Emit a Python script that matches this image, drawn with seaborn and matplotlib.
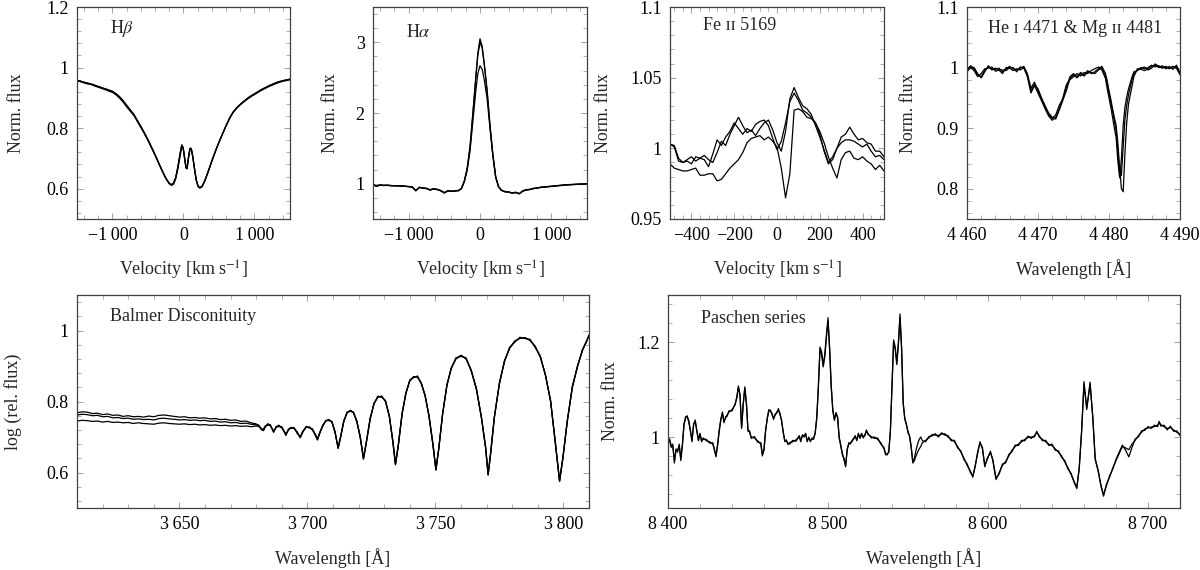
import numpy as np
import pandas as pd
import seaborn as sns
import matplotlib
matplotlib.use("Agg")
import matplotlib.pyplot as plt
from matplotlib.ticker import MultipleLocator, FuncFormatter

# ===============================
# Data
# ===============================
# H beta (velocity, km/s)
hb_vel = [-1500, -1450, -1400, -1350, -1300, -1250, -1200, -1150, -1100, -1050,
          -1000, -950, -900, -850, -800, -750, -700, -650, -600, -550,
          -500, -450, -400, -350, -300, -250, -200, -170, -140, -110,
          -80, -50, -25, -5, 15, 35, 50, 70, 90, 110,
          130, 155, 180, 205, 230, 260, 300, 350, 400, 450,
          500, 550, 600, 650, 700, 750, 800, 850, 900, 950,
          1000, 1050, 1100, 1150, 1200, 1250, 1300, 1350, 1400, 1450,
          1500]
hb_flux_1 = [0.957, 0.954, 0.951, 0.949, 0.945, 0.941, 0.938, 0.933, 0.930, 0.926,
             0.922, 0.914, 0.904, 0.891, 0.876, 0.861, 0.846, 0.826, 0.806, 0.785,
             0.762, 0.738, 0.713, 0.686, 0.660, 0.636, 0.617, 0.611, 0.615, 0.632,
             0.665, 0.705, 0.738, 0.735, 0.705, 0.672, 0.668, 0.700, 0.727, 0.729,
             0.708, 0.668, 0.630, 0.609, 0.603, 0.607, 0.626, 0.658, 0.692, 0.724,
             0.754, 0.781, 0.808, 0.832, 0.852, 0.866, 0.877, 0.887, 0.896, 0.904,
             0.911, 0.918, 0.925, 0.931, 0.937, 0.942, 0.947, 0.951, 0.955, 0.958,
             0.961]
hb_flux_2 = [0.955, 0.956, 0.949, 0.946, 0.944, 0.939, 0.935, 0.931, 0.927, 0.922,
             0.918, 0.910, 0.899, 0.886, 0.870, 0.856, 0.842, 0.822, 0.802, 0.781,
             0.759, 0.735, 0.710, 0.684, 0.658, 0.634, 0.616, 0.612, 0.617, 0.636,
             0.670, 0.712, 0.742, 0.733, 0.700, 0.668, 0.665, 0.702, 0.731, 0.731,
             0.705, 0.664, 0.627, 0.607, 0.602, 0.606, 0.625, 0.657, 0.691, 0.723,
             0.753, 0.781, 0.808, 0.833, 0.853, 0.868, 0.879, 0.889, 0.899, 0.907,
             0.914, 0.921, 0.928, 0.934, 0.940, 0.945, 0.950, 0.953, 0.956, 0.957,
             0.963]
hb_flux_3 = [0.958, 0.953, 0.952, 0.948, 0.946, 0.942, 0.937, 0.934, 0.929, 0.925,
             0.920, 0.912, 0.902, 0.889, 0.873, 0.858, 0.844, 0.824, 0.804, 0.783,
             0.760, 0.736, 0.711, 0.685, 0.659, 0.635, 0.618, 0.614, 0.619, 0.638,
             0.672, 0.715, 0.745, 0.737, 0.702, 0.670, 0.667, 0.705, 0.734, 0.733,
             0.707, 0.666, 0.628, 0.608, 0.604, 0.608, 0.627, 0.659, 0.693, 0.725,
             0.755, 0.782, 0.809, 0.834, 0.854, 0.867, 0.878, 0.888, 0.897, 0.905,
             0.912, 0.920, 0.927, 0.933, 0.938, 0.944, 0.949, 0.954, 0.957, 0.960,
             0.960]

# H alpha (velocity, km/s)
ha_vel = [-1500, -1450, -1400, -1350, -1300, -1250, -1200, -1150, -1100, -1050,
          -1000, -950, -900, -850, -800, -750, -700, -650, -600, -550,
          -500, -450, -400, -350, -300, -260, -220, -180, -140, -100,
          -60, -30, 0, 30, 60, 100, 140, 180, 220, 260,
          300, 350, 400, 450, 500, 550, 600, 650, 700, 750,
          800, 850, 900, 950, 1000, 1100, 1200, 1300, 1400, 1500]
ha_flux_1 = [0.99, 0.96, 0.985, 0.975, 0.98, 0.975, 0.97, 0.972, 0.968, 0.965,
             0.96, 0.955, 0.90, 0.95, 0.94, 0.935, 0.91, 0.93, 0.92, 0.905,
             0.87, 0.90, 0.895, 0.90, 0.905, 0.93, 1.03, 1.20, 1.50, 1.98,
             2.50, 2.85, 3.05, 2.95, 2.70, 2.32, 1.83, 1.42, 1.10, 0.96,
             0.91, 0.89, 0.885, 0.87, 0.88, 0.86, 0.90, 0.915, 0.92, 0.935,
             0.94, 0.95, 0.955, 0.96, 0.965, 0.975, 0.985, 0.99, 0.995, 1.0]
ha_flux_2 = [0.985, 0.965, 0.98, 0.978, 0.975, 0.97, 0.973, 0.968, 0.966, 0.962,
             0.958, 0.952, 0.905, 0.948, 0.938, 0.932, 0.915, 0.928, 0.918, 0.90,
             0.875, 0.898, 0.892, 0.898, 0.902, 0.935, 1.04, 1.22, 1.53, 2.00,
             2.48, 2.82, 3.00, 2.92, 2.68, 2.30, 1.82, 1.40, 1.09, 0.955,
             0.905, 0.885, 0.88, 0.868, 0.875, 0.858, 0.895, 0.912, 0.918, 0.932,
             0.938, 0.948, 0.952, 0.958, 0.962, 0.972, 0.982, 0.988, 0.993, 0.998]
ha_flux_3 = [0.988, 0.962, 0.982, 0.972, 0.978, 0.972, 0.968, 0.97, 0.965, 0.963,
             0.957, 0.953, 0.898, 0.945, 0.936, 0.93, 0.908, 0.925, 0.915, 0.898,
             0.868, 0.895, 0.89, 0.895, 0.90, 0.93, 1.03, 1.19, 1.46, 1.88,
             2.30, 2.56, 2.67, 2.62, 2.47, 2.20, 1.78, 1.40, 1.09, 0.955,
             0.905, 0.885, 0.88, 0.865, 0.873, 0.855, 0.893, 0.91, 0.916, 0.93,
             0.936, 0.946, 0.95, 0.956, 0.96, 0.97, 0.98, 0.986, 0.992, 0.996]

# Fe II 5169 (velocity, km/s)
fe_vel = [-500, -480, -460, -440, -420, -400, -380, -360, -340, -320,
          -300, -280, -260, -240, -220, -200, -180, -160, -140, -120,
          -100, -80, -60, -40, -20, 0, 20, 40, 60, 80,
          100, 120, 140, 160, 180, 200, 220, 240, 260, 280,
          300, 320, 340, 360, 380, 400, 420, 440, 460, 480, 500]
fe_flux_1 = [0.989, 0.986, 0.985, 0.984, 0.984, 0.985, 0.986, 0.981, 0.981, 0.982,
             0.982, 0.977, 0.978, 0.982, 0.986, 0.989, 0.992, 0.997, 1.004, 1.007,
             1.008, 1.009, 1.006, 1.008, 1.005, 1.001, 0.986, 0.965, 0.982, 1.027,
             1.028, 1.026, 1.022, 1.021, 1.018, 1.012, 1.004, 0.994, 0.986, 0.979,
             0.992, 0.997, 0.998, 0.993, 0.992, 0.994, 0.991, 0.989, 0.985, 0.988, 0.984]
fe_flux_2 = [1.003, 1.002, 0.993, 0.990, 0.991, 0.989, 0.994, 0.993, 0.995, 0.992,
             0.990, 0.997, 1.005, 1.002, 1.010, 1.016, 1.022, 1.016, 1.011, 1.013,
             1.009, 1.014, 1.018, 1.020, 1.013, 1.004, 0.998, 1.012, 1.035, 1.043,
             1.036, 1.030, 1.028, 1.024, 1.016, 1.008, 0.999, 0.990, 0.994, 1.000,
             1.004, 1.006, 1.006, 1.005, 1.003, 1.001, 1.003, 0.998, 0.994, 0.995, 0.992]
fe_flux_3 = [1.003, 1.001, 0.991, 0.990, 0.992, 0.994, 0.991, 0.993, 0.992, 0.987,
             0.996, 1.006, 1.002, 1.008, 1.012, 1.018, 1.014, 1.010, 1.014, 1.012,
             1.017, 1.019, 1.020, 1.016, 1.007, 0.999, 1.005, 1.018, 1.033, 1.039,
             1.034, 1.027, 1.025, 1.022, 1.018, 1.010, 0.998, 0.989, 0.992, 1.000,
             1.008, 1.010, 1.015, 1.010, 1.006, 1.007, 1.004, 1.003, 0.998, 0.998, 0.994]

# He I 4471 & Mg II 4481 (wavelength, Angstrom)
he_wave = [4460.0, 4460.5, 4461.0, 4461.5, 4462.0, 4462.5, 4463.0, 4463.5, 4464.0, 4464.5,
           4465.0, 4465.5, 4466.0, 4466.5, 4467.0, 4467.5, 4468.0, 4468.5, 4469.0, 4469.5,
           4470.0, 4470.5, 4471.0, 4471.5, 4472.0, 4472.5, 4473.0, 4473.5, 4474.0, 4474.5,
           4475.0, 4475.5, 4476.0, 4476.5, 4477.0, 4477.5, 4478.0, 4478.5, 4479.0, 4479.5,
           4479.75, 4480.0, 4480.25, 4480.5, 4480.75, 4481.0, 4481.25, 4481.5, 4481.75, 4482.0,
           4482.25, 4482.5, 4482.75, 4483.0, 4483.25, 4483.5, 4484.0, 4484.5, 4485.0, 4485.5,
           4486.0, 4486.5, 4487.0, 4487.5, 4488.0, 4488.5, 4489.0, 4489.5, 4490.0]
he_flux_1 = [0.996, 1.003, 0.998, 0.988, 0.985, 0.995, 1.001, 0.998, 0.997, 0.999,
             0.993, 0.998, 1.002, 0.998, 0.996, 0.999, 1.002, 0.990, 0.966, 0.976,
             0.962, 0.948, 0.935, 0.922, 0.916, 0.922, 0.938, 0.948, 0.968, 0.985,
             0.990, 0.985, 0.992, 0.988, 0.995, 0.990, 0.993, 0.998, 1.002, 0.990,
             0.978, 0.962, 0.948, 0.932, 0.918, 0.905, 0.875, 0.835, 0.800, 0.795,
             0.860, 0.910, 0.940, 0.955, 0.970, 0.985, 0.998, 0.997, 0.995, 0.998,
             1.002, 1.004, 1.000, 1.003, 0.998, 1.002, 0.997, 1.004, 0.990]
he_flux_2 = [0.993, 1.000, 0.995, 0.985, 0.990, 0.998, 0.999, 1.001, 0.994, 0.996,
             0.990, 1.000, 0.999, 0.995, 0.998, 0.996, 1.000, 0.985, 0.958, 0.970,
             0.958, 0.945, 0.932, 0.920, 0.913, 0.918, 0.932, 0.950, 0.972, 0.980,
             0.985, 0.990, 0.986, 0.992, 0.990, 0.995, 0.998, 1.001, 0.996, 0.982,
             0.965, 0.950, 0.935, 0.918, 0.900, 0.885, 0.845, 0.818, 0.850, 0.905,
             0.935, 0.952, 0.965, 0.975, 0.985, 0.993, 0.995, 0.999, 1.001, 0.996,
             0.999, 1.006, 1.002, 0.999, 1.001, 0.998, 1.002, 0.999, 0.988]
he_flux_3 = [0.998, 1.001, 1.000, 0.990, 0.983, 0.993, 1.003, 0.996, 0.999, 0.997,
             0.996, 0.995, 1.000, 1.000, 0.993, 1.001, 0.999, 0.988, 0.962, 0.972,
             0.965, 0.950, 0.937, 0.925, 0.918, 0.915, 0.930, 0.946, 0.962, 0.982,
             0.988, 0.983, 0.990, 0.986, 0.993, 0.992, 0.990, 0.996, 1.000, 0.986,
             0.972, 0.958, 0.942, 0.928, 0.912, 0.895, 0.862, 0.825, 0.822, 0.870,
             0.915, 0.938, 0.955, 0.968, 0.980, 0.990, 0.996, 1.000, 0.998, 1.000,
             1.004, 1.001, 1.003, 1.000, 1.002, 0.999, 1.001, 1.002, 0.992]

# Balmer discontinuity: blue part (spectra separate) and red part (Balmer lines)
bd_blue_wave = [3610, 3612, 3614, 3616, 3618, 3620, 3622, 3624, 3626, 3628,
                3630, 3632, 3634, 3636, 3638, 3640, 3642, 3644, 3646, 3648,
                3650, 3652, 3654, 3656, 3658, 3660, 3662, 3664, 3666, 3668,
                3670, 3672, 3674, 3676, 3678, 3680]
bd_blue_1 = [0.768, 0.771, 0.770, 0.766, 0.767, 0.763, 0.765, 0.761, 0.762, 0.758,
             0.760, 0.757, 0.758, 0.756, 0.759, 0.757, 0.761, 0.762, 0.760, 0.758,
             0.756, 0.757, 0.754, 0.755, 0.753, 0.754, 0.751, 0.752, 0.749, 0.750,
             0.747, 0.748, 0.744, 0.745, 0.740, 0.737]
bd_blue_2 = [0.762, 0.764, 0.763, 0.760, 0.761, 0.757, 0.758, 0.754, 0.755, 0.752,
             0.753, 0.750, 0.751, 0.749, 0.750, 0.748, 0.752, 0.753, 0.751, 0.750,
             0.748, 0.749, 0.747, 0.748, 0.746, 0.747, 0.744, 0.745, 0.742, 0.743,
             0.740, 0.741, 0.738, 0.739, 0.736, 0.734]
bd_blue_3 = [0.745, 0.747, 0.746, 0.744, 0.745, 0.742, 0.744, 0.741, 0.742, 0.740,
             0.741, 0.738, 0.740, 0.738, 0.737, 0.736, 0.739, 0.740, 0.738, 0.737,
             0.736, 0.737, 0.735, 0.736, 0.734, 0.735, 0.733, 0.734, 0.732, 0.733,
             0.731, 0.732, 0.730, 0.731, 0.729, 0.731]
bd_red_wave = [3681, 3682, 3682.8, 3683.5, 3684.5, 3685.5, 3686.8, 3687.8, 3688.8, 3690,
               3691.6, 3692.6, 3693.6, 3694.8, 3696, 3697.2, 3698.2, 3699.5, 3700.8, 3702,
               3703.2, 3703.9, 3704.8, 3706, 3707.2, 3708.4, 3709.6, 3710.8, 3712, 3713,
               3714.2, 3715.5, 3716.8, 3718, 3719.3, 3720.6, 3721.9, 3723, 3724.5, 3726,
               3727.5, 3729, 3730.5, 3732, 3733.4, 3734.4, 3735.5, 3737, 3738.5, 3740,
               3741.5, 3743, 3744.5, 3746, 3747.5, 3749, 3750.2, 3751.3, 3752.8, 3754.5,
               3756.2, 3758, 3760, 3762, 3764, 3766, 3768, 3769.6, 3770.6, 3771.6,
               3773, 3775, 3777, 3779, 3781, 3783, 3785, 3787, 3789, 3791,
               3793, 3795, 3797, 3798.5, 3799.8, 3801.5, 3803.5, 3805.5, 3807.5, 3809, 3810]
bd_red_1 = [0.730, 0.724, 0.718, 0.728, 0.737, 0.732, 0.716, 0.727, 0.733, 0.726,
            0.708, 0.720, 0.727, 0.724, 0.714, 0.698, 0.716, 0.727, 0.728, 0.720,
            0.706, 0.692, 0.710, 0.733, 0.745, 0.749, 0.741, 0.715, 0.668, 0.700,
            0.745, 0.768, 0.775, 0.768, 0.745, 0.700, 0.638, 0.683, 0.750, 0.795,
            0.812, 0.815, 0.800, 0.760, 0.685, 0.622, 0.675, 0.765, 0.825, 0.858,
            0.870, 0.869, 0.852, 0.815, 0.760, 0.680, 0.607, 0.665, 0.765, 0.845,
            0.895, 0.920, 0.930, 0.920, 0.888, 0.835, 0.755, 0.670, 0.593, 0.655,
            0.755, 0.850, 0.915, 0.950, 0.970, 0.978, 0.980, 0.972, 0.955, 0.925,
            0.875, 0.800, 0.675, 0.575, 0.640, 0.745, 0.840, 0.900, 0.945, 0.970, 0.985]
bd_red_2 = [0.734, 0.720, 0.722, 0.731, 0.733, 0.735, 0.713, 0.730, 0.729, 0.729,
            0.704, 0.723, 0.724, 0.727, 0.710, 0.701, 0.713, 0.730, 0.725, 0.723,
            0.702, 0.695, 0.713, 0.730, 0.747, 0.746, 0.744, 0.711, 0.671, 0.703,
            0.742, 0.771, 0.772, 0.771, 0.742, 0.704, 0.641, 0.686, 0.753, 0.792,
            0.815, 0.812, 0.803, 0.757, 0.689, 0.625, 0.678, 0.768, 0.822, 0.861,
            0.867, 0.872, 0.849, 0.818, 0.757, 0.684, 0.610, 0.668, 0.762, 0.848,
            0.892, 0.923, 0.927, 0.923, 0.885, 0.838, 0.752, 0.674, 0.596, 0.658,
            0.752, 0.853, 0.912, 0.953, 0.967, 0.981, 0.977, 0.975, 0.952, 0.928,
            0.872, 0.804, 0.672, 0.578, 0.643, 0.742, 0.843, 0.897, 0.948, 0.967, 0.988]

# Paschen series (wavelength, Angstrom)
pa_wave = [8400, 8401, 8402, 8403, 8404, 8405, 8406, 8407, 8408, 8409,
           8410, 8411, 8412, 8413, 8414, 8415, 8416, 8417, 8418, 8419,
           8420, 8421, 8422, 8424, 8426, 8428, 8429, 8430, 8431, 8432,
           8433, 8434, 8435, 8436, 8437, 8438, 8440, 8442, 8443, 8444,
           8445, 8446, 8447, 8448, 8449, 8450, 8451, 8452, 8454, 8456,
           8458, 8459, 8460, 8461, 8462, 8463, 8464, 8465, 8466, 8467,
           8468, 8469, 8470, 8471, 8472, 8473, 8474, 8475, 8476, 8478,
           8480, 8482, 8483, 8484, 8485, 8486, 8487, 8488, 8489, 8490,
           8491, 8492, 8493, 8494, 8495, 8496, 8497, 8498, 8499, 8500,
           8501, 8502, 8503, 8504, 8505, 8506, 8507, 8508, 8509, 8510,
           8511, 8512, 8513, 8514, 8515, 8516, 8517, 8518, 8519, 8520,
           8521, 8522, 8523, 8524, 8525, 8527, 8529, 8531, 8533, 8535,
           8536, 8537, 8538, 8539, 8540, 8541, 8542, 8543, 8544, 8545,
           8546, 8547, 8548, 8549, 8550, 8551, 8552, 8553, 8554, 8555,
           8556, 8557, 8558, 8559, 8561, 8563, 8565, 8567, 8569, 8571,
           8573, 8575, 8577, 8579, 8581, 8583, 8585, 8587, 8589, 8590.5,
           8592, 8593.5, 8595, 8596.5, 8598, 8599.5, 8601.5, 8603, 8605, 8607,
           8609, 8611, 8613, 8615, 8617, 8619, 8621, 8623, 8625, 8627,
           8629, 8630.5, 8632, 8634, 8636, 8638, 8640, 8642, 8644, 8646,
           8648, 8650, 8652, 8654, 8655.5, 8657, 8658.5, 8660, 8661.7, 8663.8,
           8665.5, 8667, 8669, 8670.5, 8672.2, 8674, 8676, 8678, 8680, 8682,
           8684, 8686, 8688, 8690, 8692, 8694, 8696, 8698, 8700, 8702,
           8704, 8706, 8707, 8708, 8710, 8712, 8714, 8716, 8718, 8720]
pa_flux_1 = [0.998, 0.992, 0.978, 0.985, 0.945, 0.975, 0.968, 0.985, 0.950, 0.985,
             1.025, 1.043, 1.042, 1.035, 1.012, 0.993, 1.025, 1.036, 1.012, 0.995,
             1.008, 0.990, 0.998, 0.992, 0.990, 0.985, 0.975, 0.958, 0.985, 1.012,
             1.038, 1.050, 1.033, 1.040, 1.047, 1.052, 1.058, 1.068, 1.085, 1.105,
             1.090, 1.018, 1.070, 1.106, 1.070, 1.015, 1.010, 1.000, 0.998, 0.992,
             0.985, 0.960, 0.975, 1.012, 1.040, 1.055, 1.057, 1.047, 1.040, 1.046,
             1.053, 1.057, 1.050, 1.033, 1.012, 0.990, 0.994, 0.984, 0.988, 0.990,
             0.994, 1.000, 0.990, 1.005, 1.000, 1.008, 0.990, 1.000, 0.990, 0.998,
             0.995, 1.010, 1.040, 1.110, 1.190, 1.180, 1.152, 1.175, 1.215, 1.252,
             1.190, 1.110, 1.055, 1.035, 1.052, 1.040, 1.000, 0.980, 0.965, 0.952,
             0.937, 0.975, 0.985, 0.988, 0.990, 0.998, 1.000, 0.995, 1.005, 1.000,
             1.008, 0.998, 1.005, 1.012, 1.008, 0.998, 1.000, 0.995, 0.988, 0.975,
             0.965, 0.962, 0.970, 1.012, 1.110, 1.205, 1.190, 1.158, 1.200, 1.260,
             1.190, 1.070, 1.040, 1.025, 1.012, 1.000, 0.980, 0.945, 0.950, 0.960,
             0.968, 0.975, 0.980, 0.988, 0.993, 0.998, 1.005, 1.004, 1.003, 1.006,
             1.007, 1.000, 0.995, 0.990, 0.980, 0.968, 0.955, 0.940, 0.928, 0.915,
             0.940, 0.965, 0.990, 0.975, 0.940, 0.952, 0.970, 0.950, 0.910, 0.925,
             0.940, 0.948, 0.960, 0.972, 0.980, 0.985, 0.990, 0.995, 0.999, 1.000,
             1.000, 1.012, 1.000, 0.995, 0.990, 0.985, 0.982, 0.975, 0.968, 0.960,
             0.947, 0.935, 0.920, 0.905, 0.891, 0.935, 1.010, 1.117, 1.058, 1.116,
             1.040, 0.955, 0.925, 0.900, 0.875, 0.900, 0.915, 0.935, 0.950, 0.965,
             0.980, 0.977, 0.973, 0.985, 0.993, 1.003, 1.010, 1.017, 1.019, 1.021,
             1.022, 1.025, 1.030, 1.026, 1.022, 1.018, 1.020, 1.015, 1.010, 1.006]
pa_flux_2 = [0.995, 0.996, 0.982, 0.980, 0.950, 0.972, 0.972, 0.981, 0.955, 0.982,
             1.028, 1.040, 1.045, 1.031, 1.015, 0.990, 1.028, 1.033, 1.015, 0.992,
             1.005, 0.993, 0.995, 0.995, 0.987, 0.988, 0.972, 0.961, 0.982, 1.015,
             1.035, 1.053, 1.030, 1.043, 1.044, 1.055, 1.055, 1.071, 1.082, 1.108,
             1.087, 1.021, 1.067, 1.103, 1.073, 1.012, 1.013, 0.997, 1.001, 0.989,
             0.988, 0.963, 0.972, 1.015, 1.037, 1.058, 1.054, 1.050, 1.037, 1.049,
             1.050, 1.060, 1.047, 1.036, 1.009, 0.993, 0.991, 0.987, 0.985, 0.993,
             0.991, 1.003, 0.993, 1.002, 1.003, 1.005, 0.993, 0.997, 0.993, 0.995,
             0.998, 1.007, 1.043, 1.105, 1.185, 1.175, 1.148, 1.170, 1.210, 1.245,
             1.185, 1.105, 1.058, 1.038, 1.049, 1.043, 0.997, 0.983, 0.962, 0.955,
             0.940, 0.972, 0.988, 0.985, 0.993, 0.995, 1.003, 0.992, 1.008, 0.997,
             1.005, 1.001, 1.002, 1.015, 1.005, 1.001, 0.997, 0.998, 0.985, 0.978,
             0.962, 0.965, 0.967, 1.015, 1.105, 1.200, 1.185, 1.153, 1.195, 1.252,
             1.185, 1.073, 1.037, 1.028, 1.009, 1.003, 0.977, 0.948, 0.955, 0.972,
             0.985, 0.995, 1.000, 0.992, 0.990, 1.001, 1.002, 1.007, 1.000, 1.009,
             1.004, 1.003, 0.992, 0.993, 0.977, 0.971, 0.952, 0.943, 0.925, 0.918,
             0.937, 0.968, 0.987, 0.978, 0.937, 0.955, 0.967, 0.953, 0.913, 0.922,
             0.943, 0.945, 0.963, 0.969, 0.983, 0.982, 0.993, 0.992, 1.002, 0.997,
             1.003, 1.009, 1.003, 0.992, 0.993, 0.982, 0.985, 0.972, 0.971, 0.957,
             0.950, 0.932, 0.923, 0.902, 0.894, 0.932, 1.013, 1.112, 1.061, 1.111,
             1.043, 0.952, 0.928, 0.897, 0.878, 0.897, 0.918, 0.932, 0.953, 0.968,
             0.983, 0.972, 0.958, 0.978, 0.996, 1.000, 1.013, 1.014, 1.022, 1.018,
             1.025, 1.022, 1.033, 1.023, 1.025, 1.015, 1.023, 1.012, 1.013, 1.003]


# ===============================
# Helpers
# ===============================
def spectra_df(xs, ys):
    frames = []
    for i, (x, y) in enumerate(zip(xs, ys)):
        assert len(x) == len(y), (i, len(x), len(y))
        frames.append(pd.DataFrame({"x": x, "y": y, "spec": i}))
    return pd.concat(frames, ignore_index=True)


def tick_fmt(v, pos):
    # pgfplots style: 1 000 with thin space, no trailing zeros
    if abs(v - round(v)) < 1e-9:
        s = f"{int(round(v)):,}".replace(",", "\u2009")
    else:
        s = f"{v:g}"
    return s.replace("-", "\u2212")


FS = 13


def style_axis(ax, xlim, ylim, xmaj, xmin, ymaj, ymin, xlabel, ylabel,
               title, title_xy, ylab_x):
    ax.set_xlim(xlim)
    ax.set_ylim(ylim)
    ax.xaxis.set_major_locator(MultipleLocator(xmaj))
    ax.xaxis.set_minor_locator(MultipleLocator(xmin))
    ax.yaxis.set_major_locator(MultipleLocator(ymaj))
    ax.yaxis.set_minor_locator(MultipleLocator(ymin))
    ax.xaxis.set_major_formatter(FuncFormatter(tick_fmt))
    ax.yaxis.set_major_formatter(FuncFormatter(tick_fmt))
    ax.tick_params(which="both", direction="in", top=True, right=True,
                   color="#a0a0a0", labelsize=FS, labelcolor="black", pad=6)
    ax.tick_params(which="major", length=4.5, width=0.7)
    ax.tick_params(which="minor", length=3, width=0.6)
    for sp in ax.spines.values():
        sp.set_color("#404040")
        sp.set_linewidth(0.9)
    ax.set_xlabel(xlabel, fontsize=FS)
    ax.set_ylabel(ylabel, fontsize=FS)
    ax.xaxis.set_label_coords(0.5, -0.19)
    ax.yaxis.set_label_coords(ylab_x, 0.5)
    ax.text(title_xy[0], title_xy[1], title, transform=ax.transAxes,
            ha="left", va="center", fontsize=FS)


def draw(ax, df):
    sns.lineplot(data=df, x="x", y="y", units="spec", estimator=None,
                 sort=False, color="black", linewidth=0.9, ax=ax, legend=False)


# ===============================
# Figure
# ===============================
sns.set_theme(style="ticks")
plt.rcParams["font.family"] = ["Liberation Serif", "DejaVu Serif"]
plt.rcParams["mathtext.fontset"] = "stix"

fig = plt.figure(figsize=(12, 5.7), dpi=100)


def add_ax(left, top, right, bottom):
    return fig.add_axes([left / 1200, 1 - bottom / 570,
                         (right - left) / 1200, (bottom - top) / 570])


vel_label = "Velocity [km\u2009s$^{-1}$]"
wl_label = "Wavelength [Å]"

ax1 = add_ax(77, 7, 290, 219)
draw(ax1, spectra_df([hb_vel] * 3, [hb_flux_1, hb_flux_2, hb_flux_3]))
style_axis(ax1, (-1500, 1500), (0.5, 1.2), 1000, 200, 0.2, 0.04,
           vel_label, "Norm. flux", r"H$\beta$", (0.155, 0.90), -0.244)

ax2 = add_ax(373, 7, 587, 219)
draw(ax2, spectra_df([ha_vel] * 3, [ha_flux_1, ha_flux_2, ha_flux_3]))
style_axis(ax2, (-1500, 1500), (0.5, 3.5), 1000, 200, 1, 0.2,
           vel_label, "Norm. flux", r"H$\alpha$", (0.154, 0.882), -0.159)

ax3 = add_ax(670, 7, 884, 219)
draw(ax3, spectra_df([fe_vel] * 3, [fe_flux_1, fe_flux_2, fe_flux_3]))
style_axis(ax3, (-500, 500), (0.95, 1.1), 200, 40, 0.05, 0.01,
           vel_label, "Norm. flux", "Fe ɪɪ 5169", (0.154, 0.915), -0.271)

ax4 = add_ax(967, 7, 1180, 219)
draw(ax4, spectra_df([he_wave] * 3, [he_flux_1, he_flux_2, he_flux_3]))
style_axis(ax4, (4460, 4490), (0.75, 1.1), 10, 2, 0.1, 0.02,
           wl_label, "Norm. flux", "He ɪ 4471 & Mg ɪɪ 4481", (0.099, 0.90), -0.235)

ax5 = add_ax(77, 295, 589, 508)
bd_waves = [bd_blue_wave + bd_red_wave] * 3
bd_fluxes = [bd_blue_1 + bd_red_1, bd_blue_2 + bd_red_2, bd_blue_3 + bd_red_1]
draw(ax5, spectra_df(bd_waves, bd_fluxes))
style_axis(ax5, (3610, 3810), (0.5, 1.1), 50, 10, 0.2, 0.04,
           wl_label, "log (rel. flux)", "Balmer Disconituity", (0.064, 0.897), -0.107)

ax6 = add_ax(668, 295, 1180, 508)
draw(ax6, spectra_df([pa_wave] * 2, [pa_flux_1, pa_flux_2]))
style_axis(ax6, (8400, 8720), (0.85, 1.3), 100, 20, 0.2, 0.04,
           wl_label, "Norm. flux", "Paschen series", (0.064, 0.892), -0.096)

fig.savefig("out.png", dpi=100, facecolor="white")
